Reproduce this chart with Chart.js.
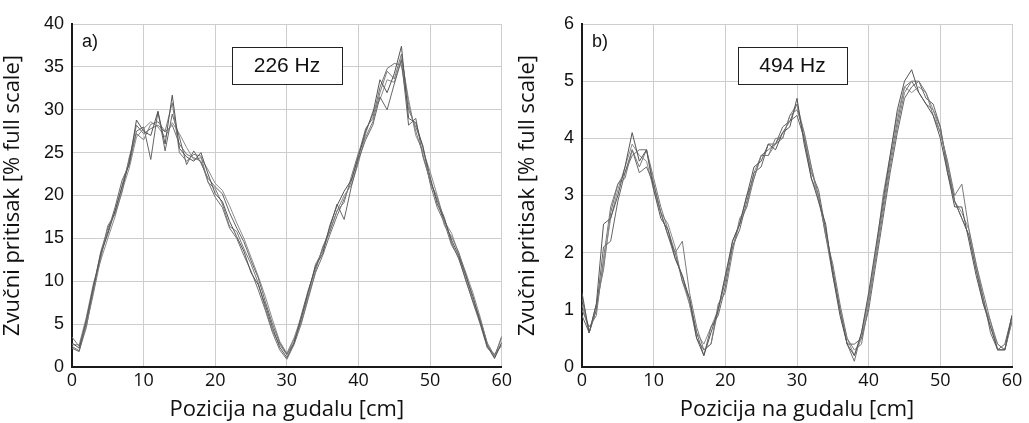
<!DOCTYPE html>
<html>
<head>
<meta charset="utf-8">
<script src="https://cdn.jsdelivr.net/npm/chart.js@4"></script>
<style>
  html, body { margin: 0; padding: 0; background: #fff; }
  .panel { position: absolute; top: 0; height: 423px; }
  #left { left: 0; width: 515px; }
  #right { left: 515px; width: 514px; }
</style>
</head>
<body>
<div class="panel" id="left"><canvas id="chartA"></canvas></div>
<div class="panel" id="right"><canvas id="chartB"></canvas></div>
<script>
// positions along the bow [cm]
const positions = [0,1,2,3,4,5,6,7,8,9,10,11,12,13,14,15,16,17,18,19,20,21,22,23,24,25,26,27,28,29,30,
  31,32,33,34,35,36,37,38,39,40,41,42,43,44,45,46,47,48,49,50,51,52,53,54,55,56,57,58,59,60];

// a) 226 Hz, five measurements [% full scale]
const a1 = [2.8,2.2,5.5,9.5,13.2,15.5,18.2,21,23.8,28.8,27.5,27,29.8,26,31.7,25.5,24.5,24,25,22.5,20.2,19.3,17,15.2,13.5,11,9.6,7.2,4.6,2.3,1.1,2.8,5.6,8.8,11.8,13.2,16.5,18.8,20.5,21.8,24.5,27.5,29.5,33.5,32,34.2,37.4,29,28.5,25.6,22.2,19,17.2,14.8,13,10.6,8.2,5.2,2.4,1,2.8];
const a2 = [3.5,2.4,4.8,8.6,12.6,16.5,17.8,20.4,24.5,27.2,26.5,28.3,28.6,27.5,30.8,25,24,24.8,24.6,21.5,20.8,19,16.4,15.8,13.8,12,9.8,6.8,4.2,2.6,1.4,3.2,5.2,8.2,11.2,14,15.8,18.2,19.2,22.2,25,26.8,28.6,32,34.5,33.6,36.5,30.6,27.5,24.8,21.6,19.8,16.5,15.2,13.4,10.8,7.8,5.6,2.8,1.3,3.4];
const a3 = [2.2,1.8,5.2,9,13,15.8,18.6,21.8,23.6,27.5,28,24.2,29.8,25.2,29.5,26.8,23.6,25.2,23.8,22,21,20.2,18,16.2,14.6,12.4,10.4,7.6,5,2.8,1.5,2.8,6,9,11.5,13.8,16.2,19,17.2,21,24.2,26.5,28.2,31.5,30,33,35.8,28.2,29,24.5,21.8,19.4,17.4,14.5,12.6,10.2,7.5,5,2.2,1.5,2.5];
const a4 = [2.6,2.6,5.8,9.8,12.4,15,17.5,20.6,23.2,26.8,27.8,28.6,28,26.8,28.5,27.2,25.6,24.2,24.4,23,21.4,20.6,18.8,16.8,15,12.8,10.6,8.2,5.5,3,1.6,3.4,5.8,8.4,12,13.5,15.8,18.2,20,21.2,23.8,27.2,29.8,31.2,33.5,33.2,36,31.2,27,25.2,22.8,20,17,15.6,13.2,11,8.6,5.8,2.6,1.1,2.9];
const a5 = [2.4,1.9,4.6,9.2,13.4,16.2,18,21.2,24.2,28.2,27.2,27.8,28.2,27.4,28.2,26,24.8,24.4,24,21.6,19.8,18.6,16.2,15,13,11.2,9,6.6,4,2,0.9,2.6,5,8,11,13,15.4,17.6,19.6,21.6,24.8,27.8,29,32.6,34.8,35.4,35.2,30,28,25.8,21.4,18.6,16.8,14.2,12.8,10,7.6,5.4,2.6,1.2,3.6];

// b) 494 Hz, five measurements [% full scale]
const b1 = [1.3,0.6,1.1,2.5,2.6,3.0,3.5,4.1,3.6,3.8,3.1,2.6,2.4,1.9,1.6,1.2,0.5,0.2,0.6,1.0,1.6,2.2,2.5,3.0,3.5,3.6,3.9,3.8,4.1,4.2,4.7,3.9,3.3,2.9,2.5,1.6,0.9,0.4,0.2,0.6,1.3,2.1,2.9,3.7,4.5,5.0,5.2,4.8,4.6,4.4,4.0,3.4,2.8,2.8,2.2,1.6,1.1,0.7,0.3,0.3,0.9];
const b2 = [1.0,0.7,0.9,1.9,2.8,3.2,3.3,3.8,3.5,3.8,3.3,2.8,2.4,2.0,2.2,1.3,0.7,0.3,0.4,1.1,1.3,2.0,2.6,2.8,3.3,3.7,3.7,4.0,4.0,4.4,4.5,4.1,3.5,3.0,2.3,1.8,1.1,0.5,0.3,0.4,1.1,1.9,2.7,3.5,4.2,4.8,5.0,5.0,4.8,4.4,4.1,3.6,3.0,3.2,2.4,1.8,1.3,0.8,0.4,0.3,0.8];
const b3 = [0.9,0.6,1.0,2.1,2.2,2.9,3.4,3.8,3.4,3.5,3.2,2.7,2.3,2.0,1.5,1.2,0.6,0.2,0.7,0.9,1.4,2.1,2.4,2.9,3.4,3.5,3.9,3.9,4.2,4.3,4.4,4.0,3.4,3.1,2.4,1.7,1.0,0.4,0.4,0.5,1.0,1.8,2.6,3.4,4.1,4.7,4.9,5.0,4.7,4.6,4.2,3.5,2.9,2.6,2.3,1.7,1.2,0.6,0.3,0.4,0.9];
const b4 = [1.1,0.6,1.0,1.8,2.6,3.1,3.5,3.9,3.7,3.6,3.1,2.7,2.5,2.1,1.5,1.1,0.6,0.4,0.7,1.0,1.6,2.1,2.5,2.8,3.4,3.7,3.7,3.9,4.0,4.4,4.6,4.1,3.5,2.9,2.4,1.7,1.0,0.5,0.2,0.5,1.2,2.0,3.0,3.7,4.4,4.9,4.8,4.9,4.8,4.5,4.1,3.6,2.9,2.7,2.4,1.8,1.2,0.7,0.4,0.3,0.8];
const b5 = [1.2,0.6,1.1,1.7,2.7,3.2,3.4,3.7,3.8,3.8,3.2,2.7,2.3,1.9,1.6,1.1,0.5,0.3,0.4,1.0,1.5,2.2,2.5,3.0,3.3,3.7,3.8,3.9,4.1,4.3,4.6,4.0,3.3,3.0,2.3,1.6,1.0,0.4,0.1,0.6,1.2,2.0,2.8,3.6,4.3,4.9,5.0,4.8,4.6,4.5,4.2,3.4,2.9,2.6,2.3,1.7,1.1,0.8,0.3,0.3,0.9];

const traceColors = ["#555555", "#7a7a7a", "#666666", "#8c8c8c", "#707070"];

// small labels drawn inside the plot: "a)" and the framed frequency
const panelLabels = {
  id: "panelLabels",
  afterDatasetsDraw(chart, args, opts) {
    const ctx = chart.ctx;
    const area = chart.chartArea;
    ctx.save();
    ctx.fillStyle = "#111";
    ctx.font = "18px 'Liberation Sans', Arial, sans-serif";
    ctx.textBaseline = "top";
    ctx.textAlign = "left";
    ctx.fillText(opts.tag, area.left + 10, area.top + 9);

    const bx = area.left + opts.boxLeft, by = area.top + 23, bw = opts.boxWidth, bh = 37;
    ctx.fillStyle = "#fff";
    ctx.fillRect(bx, by, bw, bh);
    ctx.strokeStyle = "#222";
    ctx.lineWidth = 1;
    ctx.strokeRect(bx + 0.5, by + 0.5, bw, bh);
    ctx.fillStyle = "#111";
    ctx.font = "21px 'Liberation Sans', Arial, sans-serif";
    ctx.textAlign = "center";
    ctx.textBaseline = "middle";
    ctx.fillText(opts.freq, bx + bw / 2, by + bh / 2 + 1);
    ctx.restore();
  }
};

function makePanel(canvasId, traces, yMax, yStep, yWidth, padRight, labels) {
  const ctx = document.getElementById(canvasId).getContext("2d");
  return new Chart(ctx, {
    type: "line",
    data: {
      labels: positions,
      datasets: traces.map(function (values, i) {
        return {
          data: values.map(function (v, k) { return { x: positions[k], y: v }; }),
          borderColor: traceColors[i],
          borderWidth: 1,
          pointRadius: 0,
          tension: 0,
          fill: false
        };
      })
    },
    options: {
      responsive: true,
      maintainAspectRatio: false,
      animation: false,
      events: [],
      layout: { padding: { top: 24, right: padRight, left: 0, bottom: 0 } },
      plugins: {
        legend: { display: false },
        tooltip: { enabled: false },
        panelLabels: labels
      },
      scales: {
        x: {
          type: "linear",
          min: 0,
          max: 60,
          ticks: {
            stepSize: 10,
            color: "#111",
            padding: 3,
            maxRotation: 0,
            font: { family: "'Open Sans'", size: 18 }
          },
          grid: { color: "#cdcdcd", lineWidth: 1, drawTicks: false },
          border: { color: "#1a1a1a", width: 2 },
          title: {
            display: true,
            text: "Pozicija na gudalu [cm]",
            color: "#111",
            padding: { top: 0, bottom: 0 },
            font: { family: "'Open Sans'", size: 22 }
          },
          afterFit: function (scale) { scale.height = 56; }
        },
        y: {
          min: 0,
          max: yMax,
          ticks: {
            stepSize: yStep,
            color: "#111",
            padding: 8,
            font: { family: "'Liberation Sans', Arial", size: 18 }
          },
          grid: { color: "#cdcdcd", lineWidth: 1, drawTicks: false },
          border: { color: "#1a1a1a", width: 2 },
          title: {
            display: true,
            text: "Zvučni pritisak [% full scale]",
            color: "#111",
            padding: { top: 0, bottom: 0 },
            font: { family: "'Open Sans'", size: 22 }
          },
          afterFit: function (scale) { scale.width = yWidth; }
        }
      }
    },
    plugins: [panelLabels]
  });
}

makePanel("chartA", [a1, a2, a3, a4, a5], 40, 5, 72, 10,
  { tag: "a)", freq: "226 Hz", boxLeft: 160, boxWidth: 110 });
makePanel("chartB", [b1, b2, b3, b4, b5], 6, 1, 67, 17,
  { tag: "b)", freq: "494 Hz", boxLeft: 156, boxWidth: 109 });
</script>
</body>
</html>
